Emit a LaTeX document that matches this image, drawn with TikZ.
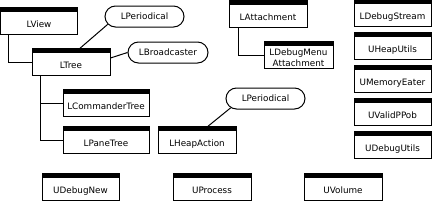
\documentclass[tikz,border=0pt]{standalone}
\usepackage{fontspec}
\setmainfont{DejaVu Sans}
\usetikzlibrary{shapes.misc}

\begin{document}
\begin{tikzpicture}[x=1pt,y=-1pt,font=\fontsize{8.8}{11.5}\selectfont,line width=1pt,
    unit/.style={draw,rectangle,minimum width=78pt,inner xsep=2pt,inner ysep=0pt,
      text height=19.5pt,text depth=7pt,
      path picture={\fill (path picture bounding box.north west) rectangle ([yshift=-4pt]path picture bounding box.north east);}},
    periodic/.style={draw,rounded rectangle,minimum width=79pt,minimum height=21pt,inner sep=0pt,
      text height=6pt,text depth=0pt}]
    \useasboundingbox (0,0) rectangle (432,201);
    % view tree
    \node[unit,minimum width=77pt] (lview) at (39,21) {LView};
    \node[unit] (ltree) at (71,62) {LTree};
    \node[periodic] (lper1) at (144.5,16.5) {LPeriodical};
    \node[periodic,minimum width=80pt] (lbroad) at (168,52.5) {LBroadcaster};
    \node[unit,minimum width=86pt] (lcmd) at (106,103) {LCommanderTree};
    \node[unit,minimum width=86pt] (lpane) at (106,140) {LPaneTree};
    \draw ([xshift=-31pt]lview.south) |- (ltree.west);
    \draw ([xshift=9pt]ltree.north) -- (lper1.192);
    \draw ([yshift=4pt]ltree.east) -- (lbroad.west);
    \draw ([xshift=-31pt]ltree.south) |- (lcmd.west);
    \draw ([xshift=-31pt]ltree.south) |- (lpane.west);
    % heap action
    \node[unit] (lheap) at (197,140) {LHeapAction};
    \node[periodic] (lper2) at (265.5,98.5) {LPeriodical};
    \draw ([xshift=11pt]lheap.north) -- (lper2.195);
    % attachments
    \node[unit] (latt) at (268,14) {LAttachment};
    \node[unit,minimum width=69pt,align=center,text height=25pt,text depth=1.5pt] (ldbgmenu) at (298.5,55) {LDebugMenu\\Attachment};
    \draw ([xshift=-30pt]latt.south) |- (ldbgmenu.west);
    % utility units
    \foreach \lbl/\y [count=\i] in {LDebugStream/13.5,UHeapUtils/46,UMemoryEater/79,UValidPPob/112,UDebugUtils/145}
      \node[unit,minimum width=77pt] (util\i) at (392.5,\y) {\lbl};
    \node[unit,minimum width=77pt] (udebugnew) at (80.5,187) {UDebugNew};
    \node[unit] (uprocess) at (212,187) {UProcess};
    \node[unit] (uvolume) at (343,187) {UVolume};
  \end{tikzpicture}
\end{document}
